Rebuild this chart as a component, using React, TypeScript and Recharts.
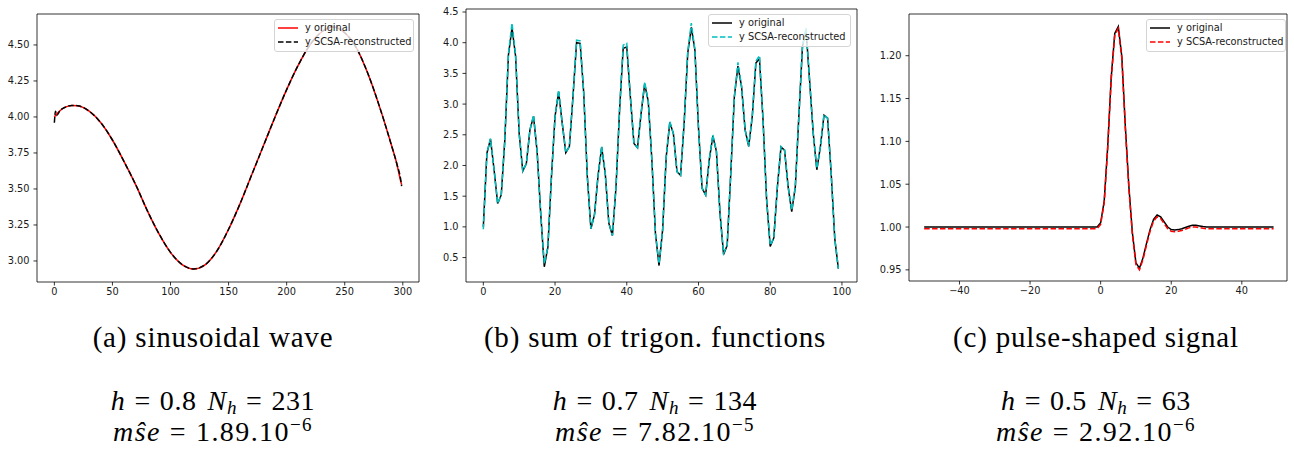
import React from 'react';
import { LineChart, Line, XAxis, YAxis, ReferenceArea } from 'recharts';

// (a) sinusoidal wave
const sinX = [0, 1, 2, 5, 10, 15, 20, 30, 40, 50, 60, 70, 80, 90, 100, 110, 120, 130, 140, 150, 160, 170, 180, 190, 200, 210, 220, 230, 240, 250, 260, 270, 280, 290, 295, 298, 299];
const sinOriginal = [4.0, 4.01, 4.02, 4.045, 4.07, 4.08, 4.078, 4.04, 3.96, 3.84, 3.69, 3.53, 3.35, 3.19, 3.06, 2.975, 2.945, 2.975, 3.07, 3.22, 3.4, 3.6, 3.8, 4.0, 4.19, 4.36, 4.5, 4.59, 4.625, 4.585, 4.48, 4.3, 4.07, 3.81, 3.67, 3.56, 3.53];
const sinReconstructed = [3.96, 4.04, 4.01, 4.045, 4.07, 4.08, 4.078, 4.04, 3.96, 3.84, 3.69, 3.53, 3.35, 3.19, 3.06, 2.975, 2.945, 2.975, 3.07, 3.22, 3.4, 3.6, 3.8, 4.0, 4.19, 4.36, 4.5, 4.59, 4.625, 4.585, 4.48, 4.3, 4.07, 3.81, 3.67, 3.575, 3.52];
const sinXTicks = [0, 50, 100, 150, 200, 250, 300];
const sinYTicks = [3.0, 3.25, 3.5, 3.75, 4.0, 4.25, 4.5];

// (b) sum of trigonometric functions, x = 0..99
const trigOriginal = [
  1.0, 2.2, 2.43, 1.93, 1.38, 1.52, 2.42, 3.8, 4.24, 3.78,
  2.52, 1.91, 2.03, 2.58, 2.8, 2.23, 1.22, 0.35, 0.67, 1.82,
  2.8, 3.2, 2.69, 2.21, 2.31, 3.12, 4.0, 3.99, 3.18, 1.82,
  0.97, 1.2, 1.84, 2.3, 1.87, 1.06, 0.86, 1.65, 2.91, 3.91,
  3.93, 3.12, 2.36, 2.29, 2.85, 3.33, 3.04, 2.09, 0.89, 0.37,
  0.95, 2.14, 2.7, 2.52, 1.9, 1.84, 2.69, 3.83, 4.25, 3.88,
  2.61, 1.63, 1.52, 2.09, 2.48, 2.23, 1.22, 0.55, 0.7, 1.87,
  3.12, 3.62, 3.29, 2.58, 2.31, 2.8, 3.67, 3.74, 2.74, 1.44,
  0.68, 0.82, 1.65, 2.3, 2.25, 1.65, 1.25, 1.65, 2.82, 3.94,
  4.2, 3.37, 2.52, 1.93, 2.31, 2.82, 2.77, 1.87, 0.81, 0.32,
];
const trigReconstructed = [
  0.96, 2.2, 2.44, 1.93, 1.38, 1.52, 2.42, 3.82, 4.32, 3.8,
  2.52, 1.91, 2.03, 2.58, 2.82, 2.23, 1.22, 0.4, 0.67, 1.82,
  2.8, 3.23, 2.69, 2.21, 2.31, 3.12, 4.04, 4.03, 3.18, 1.82,
  0.97, 1.2, 1.84, 2.31, 1.87, 1.06, 0.86, 1.65, 2.91, 3.96,
  3.99, 3.12, 2.36, 2.29, 2.85, 3.36, 3.04, 2.09, 0.89, 0.4,
  0.95, 2.14, 2.72, 2.52, 1.9, 1.84, 2.69, 3.85, 4.32, 3.88,
  2.61, 1.63, 1.52, 2.09, 2.5, 2.23, 1.22, 0.57, 0.7, 1.87,
  3.12, 3.68, 3.29, 2.58, 2.31, 2.8, 3.7, 3.79, 2.74, 1.44,
  0.7, 0.82, 1.65, 2.31, 2.25, 1.65, 1.27, 1.65, 2.82, 3.96,
  4.24, 3.37, 2.52, 1.95, 2.31, 2.83, 2.77, 1.87, 0.81, 0.32,
];
const trigXTicks = [0, 20, 40, 60, 80, 100];
const trigYTicks = [0.5, 1.0, 1.5, 2.0, 2.5, 3.0, 3.5, 4.0, 4.5];

// (c) pulse-shaped signal
const pulseX = [-50, -1, 0, 1, 2, 3, 4, 5, 6, 7, 8, 9, 10, 11, 12, 13, 14, 15, 16, 17, 18, 19, 20, 21, 22, 23, 24, 25, 26, 27, 28, 29, 30, 49];
const pulseOriginal = [1.0, 1.0, 1.005, 1.03, 1.094, 1.175, 1.226, 1.234, 1.199, 1.117, 1.047, 0.993, 0.958, 0.952, 0.964, 0.981, 0.997, 1.009, 1.014, 1.012, 1.006, 1.0, 0.997, 0.9966, 0.997, 0.998, 0.9995, 1.001, 1.002, 1.002, 1.0013, 1.0005, 1.0, 1.0];
const pulseReconstructed = [0.998, 0.998, 1.003, 1.028, 1.092, 1.173, 1.224, 1.232, 1.197, 1.115, 1.045, 0.991, 0.956, 0.95, 0.962, 0.979, 0.995, 1.007, 1.012, 1.01, 1.004, 0.998, 0.995, 0.9946, 0.995, 0.996, 0.9975, 0.999, 1.0, 1.0, 0.9993, 0.9985, 0.998, 0.998];
const pulseXTicks = [-40, -20, 0, 20, 40];
const pulseYTicks = [0.95, 1.0, 1.05, 1.1, 1.15, 1.2];

const sinData = sinX.map((x, i) => ({ x, orig: sinOriginal[i], rec: sinReconstructed[i] }));
const trigData = trigOriginal.map((v, i) => ({ x: i, orig: v, rec: trigReconstructed[i] }));
const pulseData = pulseX.map((x, i) => ({ x, orig: pulseOriginal[i], rec: pulseReconstructed[i] }));

const DASH = '5.5 2.4';
const tickStyle = { fontSize: 9.8, fontFamily: 'DejaVu Sans', fill: '#1a1a1a' };
const tickLine = { stroke: '#000', strokeWidth: 0.8 };
const minus = (v: number) => String(v).replace('-', '\u2212');

interface PanelProps {
  left: number;
  width: number;
  margin: { top: number; right: number; bottom: number; left: number };
  yWidth: number;
  xHeight: number;
  data: { x: number; orig: number; rec: number }[];
  xDomain: [number, number];
  yDomain: [number, number];
  xTicks: number[];
  yTicks: number[];
  yDigits: number;
  origColor: string;
  recColor: string;
  curve: 'monotone' | 'linear';
}

const Panel: React.FC<PanelProps> = (p) => (
  <div style={{ position: 'absolute', left: p.left, top: 0 }}>
    <LineChart width={p.width} height={300} data={p.data} margin={p.margin}>
      <XAxis
        dataKey="x"
        type="number"
        domain={p.xDomain}
        ticks={p.xTicks}
        allowDataOverflow
        interval={0}
        axisLine={false}
        tickSize={3.5}
        tickMargin={3}
        tick={tickStyle}
        tickLine={tickLine}
        height={p.xHeight}
        tickFormatter={minus}
      />
      <YAxis
        type="number"
        domain={p.yDomain}
        ticks={p.yTicks}
        allowDataOverflow
        interval={0}
        axisLine={false}
        tickSize={3.5}
        tickMargin={4}
        tick={tickStyle}
        tickLine={tickLine}
        width={p.yWidth}
        tickFormatter={(v: number) => v.toFixed(p.yDigits)}
      />
      <Line dataKey="orig" type={p.curve} stroke={p.origColor} strokeWidth={1.5} dot={false} isAnimationActive={false} />
      <Line dataKey="rec" type={p.curve} stroke={p.recColor} strokeWidth={1.5} strokeDasharray={DASH} dot={false} isAnimationActive={false} />
      <ReferenceArea
        x1={p.xDomain[0]}
        x2={p.xDomain[1]}
        y1={p.yDomain[0]}
        y2={p.yDomain[1]}
        fill="none"
        stroke="#000"
        strokeWidth={0.8}
        ifOverflow="visible"
      />
    </LineChart>
  </div>
);

const LegendBox = ({ left, top, width, origColor, recColor }: { left: number; top: number; width: number; origColor: string; recColor: string }) => {
  const rows = [
    { label: 'y original', color: origColor, dash: undefined },
    { label: 'y SCSA-reconstructed', color: recColor, dash: DASH },
  ];
  return (
    <div
      style={{
        position: 'absolute',
        left,
        top,
        width,
        height: 33,
        boxSizing: 'border-box',
        border: '1px solid #d4d4d4',
        borderRadius: 3,
        background: 'rgba(255,255,255,0.8)',
        fontFamily: 'DejaVu Sans',
        fontSize: 9.8,
        color: '#1a1a1a',
      }}
    >
      {rows.map((r, i) => (
        <div key={r.label} style={{ position: 'absolute', left: 2, top: 2 + i * 14, height: 12, display: 'flex', alignItems: 'center' }}>
          <svg width={22} height={12} style={{ display: 'block' }}>
            <line x1={1} x2={21} y1={6} y2={6} stroke={r.color} strokeWidth={1.5} strokeDasharray={r.dash} />
          </svg>
          <span style={{ marginLeft: 6, whiteSpace: 'nowrap', lineHeight: '12px' }}>{r.label}</span>
        </div>
      ))}
    </div>
  );
};

const captions = [
  { cx: 213, title: '(a) sinusoidal wave', h: '0.8', nh: '231', mse: '1.89.10', exp: '\u22126' },
  { cx: 655, title: '(b) sum of trigon. functions', h: '0.7', nh: '134', mse: '7.82.10', exp: '\u22125' },
  { cx: 1096, title: '(c) pulse-shaped signal', h: '0.5', nh: '63', mse: '2.92.10', exp: '\u22126' },
];

const Eq = () => <span style={{ margin: '0 9px' }}>=</span>;

const Caption = ({ c }: { c: (typeof captions)[number] }) => (
  <div
    style={{
      position: 'absolute',
      left: c.cx - 200,
      top: 322,
      width: 400,
      textAlign: 'center',
      fontFamily: 'Liberation Serif',
      color: '#000',
      whiteSpace: 'nowrap',
    }}
  >
    <div style={{ fontSize: 29, lineHeight: '30px', letterSpacing: 0.8 }}>{c.title}</div>
    <div style={{ fontSize: 28, lineHeight: '31px', marginTop: 33, letterSpacing: 0.6 }}>
      <i>h</i>
      <Eq />
      <span style={{ marginRight: 11 }}>{c.h}</span>
      <i>N</i>
      <sub style={{ fontSize: 19, verticalAlign: '-4px', lineHeight: 0 }}>
        <i>h</i>
      </sub>
      <Eq />
      {c.nh}
    </div>
    <div style={{ fontSize: 28, lineHeight: '31px', letterSpacing: 1.4 }}>
      <i>{'ms\u0302e'}</i>
      <Eq />
      {c.mse}
      <sup style={{ fontSize: 19, verticalAlign: '10px', lineHeight: 0 }}>{c.exp}</sup>
    </div>
  </div>
);

const App: React.FC = () => (
  <div style={{ position: 'absolute', left: 0, top: 0, width: 1294, height: 453, background: '#fff', overflow: 'hidden' }}>
    <Panel
      left={0}
      width={430}
      margin={{ top: 14, right: 11, bottom: 0, left: 0 }}
      yWidth={37}
      xHeight={18}
      data={sinData}
      xDomain={[-14.95, 313.95]}
      yDomain={[2.854, 4.715]}
      xTicks={sinXTicks}
      yTicks={sinYTicks}
      yDigits={2}
      origColor="#ff0000"
      recColor="#000000"
      curve="monotone"
    />
    <Panel
      left={430}
      width={430}
      margin={{ top: 9, right: 3, bottom: 0, left: 0 }}
      yWidth={36}
      xHeight={18}
      data={trigData}
      xDomain={[-4.83, 104.2]}
      yDomain={[0.102, 4.549]}
      xTicks={trigXTicks}
      yTicks={trigYTicks}
      yDigits={1}
      origColor="#000000"
      recColor="#00bfbf"
      curve="linear"
    />
    <Panel
      left={860}
      width={434}
      margin={{ top: 14, right: 7, bottom: 0, left: 0 }}
      yWidth={49}
      xHeight={19}
      data={pulseData}
      xDomain={[-54.3, 52.8]}
      yDomain={[0.937, 1.2487]}
      xTicks={pulseXTicks}
      yTicks={pulseYTicks}
      yDigits={2}
      origColor="#000000"
      recColor="#ff0000"
      curve="linear"
    />
    <LegendBox left={274} top={19} width={140} origColor="#ff0000" recColor="#000000" />
    <LegendBox left={708} top={14} width={143} origColor="#000000" recColor="#00bfbf" />
    <LegendBox left={1146} top={19} width={140} origColor="#000000" recColor="#ff0000" />
    {captions.map((c) => (
      <Caption key={c.title} c={c} />
    ))}
  </div>
);

export default App;
